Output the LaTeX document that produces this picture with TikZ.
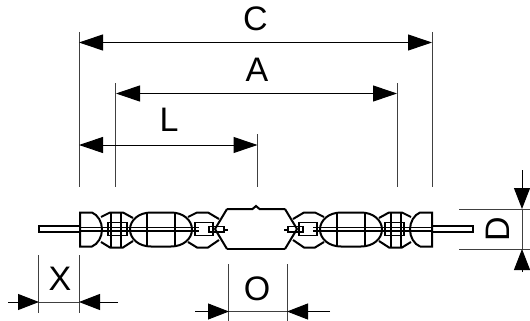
\documentclass[tikz,border=0pt]{standalone}
\usepackage{fontspec}
\setmainfont{Liberation Sans}
\usetikzlibrary{arrows.meta}
\tikzset{
  ext/.style={draw=black!75,line width=1pt},
  dim/.style={draw=black,line width=1pt,{Triangle[length=24pt,width=16pt]}-{Triangle[length=24pt,width=16pt]}},
  dimin/.style={draw=black,line width=1pt,-{Triangle[length=21pt,width=16pt]}},
  lbl/.style={font=\fontsize{34}{34}\selectfont,inner sep=0pt},
  lamp/.style={draw=black,line width=2pt,line join=miter},
  thin part/.style={draw=black,line width=1.1pt},
  halflamp/.pic={
    % lead
    \draw[lamp] (39,226) rectangle (80,232);
    % end cap
    \draw[lamp] (92,246.5) -- (80,246.5) -- (80,212.5) -- (92,212.5)
      .. controls (98,215) and (102,222) .. (102,229.5)
      .. controls (102,237) and (98,244) .. (92,246.5);
    % first pinch
    \draw[lamp] (101,217) -- (110,212.5) -- (123,212.5) -- (133,218);
    \draw[lamp] (101,242) -- (110,247.5) -- (123,247.5) -- (133,241);
    \draw[thin part] (108,222.5) rectangle (127,235.5);
    \draw[thin part] (111,212.5) -- (111,247.5);
    \draw[thin part] (121,212.5) -- (121,247.5);
    % oval
    \draw[lamp] (151,212.5) -- (171,212.5)
      .. controls (183,212.5) and (192,220) .. (192,229.5)
      .. controls (192,239) and (183,246.5) .. (171,246.5)
      -- (151,246.5)
      .. controls (139,246.5) and (130,239) .. (130,229.5)
      .. controls (130,220) and (139,212.5) .. (151,212.5) -- cycle;
    \draw[thin part] (147,212.5) -- (147,246.5);
    \draw[thin part] (175,212.5) -- (175,246.5);
    % second pinch
    \draw[lamp] (188,217) -- (197,212.5) -- (208,212.5) -- (219,219);
    \draw[lamp] (188,242) -- (197,247.5) -- (208,247.5) -- (219,240);
    \draw[thin part] (195,222.5) rectangle (213,235.5);
    % inner wire
    \draw[thin part] (80,227.5) -- (199,227.5);
    \draw[thin part] (80,231) -- (199,231);
    \draw[thin part] (209,226.5) rectangle (224,232);
    \draw[line width=2pt] (224,229.5) -- (228,229.5);
    % bulb flank
    \draw[lamp] (227,209) -- (215,229) -- (227,249);
  }
}
\begin{document}
\begin{tikzpicture}[x=1pt,y=-1pt]
  \useasboundingbox (0,0) rectangle (530,321);

  % lamp, one half and its mirror
  \pic at (0,0) {halflamp};
  \pic[xscale=-1] at (512,0) {halflamp};
  \draw[lamp] (227,209) -- (252.5,209) -- (256,206) -- (259.5,209) -- (285,209);
  \draw[lamp] (227,249) -- (285,249);

  % extension lines
  \coordinate (c1t) at (79,32);    \coordinate (c1b) at (79,187);
  \coordinate (a1t) at (115,83);   \coordinate (a1b) at (115,187);
  \coordinate (l2t) at (257.5,134);\coordinate (l2b) at (257.5,187);
  \coordinate (a2t) at (397,83);   \coordinate (a2b) at (397,187);
  \coordinate (c2t) at (432,32);   \coordinate (c2b) at (432,187);
  \path[ext] (c1t) edge (c1b) (a1t) edge (a1b) (l2t) edge (l2b)
             (a2t) edge (a2b) (c2t) edge (c2b);

  % dimensions on top
  \coordinate (c1) at (79,42.5);   \coordinate (c2) at (432,42.5);
  \coordinate (a1) at (116,93.5);  \coordinate (a2) at (397,93.5);
  \coordinate (l1) at (79,145);    \coordinate (l2) at (257.5,145);
  \draw[dim] (c1) -- (c2);
  \draw[dim] (a1) -- (a2);
  \draw[dim] (l1) -- (l2);
  \node[lbl] (lblC) at (255.5,19) {C};
  \node[lbl] (lblA) at (257,70) {A};
  \node[lbl] (lblL) at (169,120) {L};

  % X
  \coordinate (x1t) at (38.5,255); \coordinate (x1b) at (38.5,313);
  \coordinate (x2t) at (79.5,255); \coordinate (x2b) at (79.5,313);
  \path[ext] (x1t) edge (x1b) (x2t) edge (x2b);
  \coordinate (x0) at (8,302);     \coordinate (x1) at (39,302);
  \coordinate (x2) at (79,302);    \coordinate (x3) at (118,302);
  \draw[dimin] (x0) -- (x1);
  \draw[dimin] (x3) -- (x2);
  \draw[ext] (x1) -- (x2);
  \node[lbl] (lblX) at (60,279) {X};

  % O
  \coordinate (o1t) at (228.5,264);\coordinate (o1b) at (228.5,321);
  \coordinate (o2t) at (287.5,264);\coordinate (o2b) at (287.5,321);
  \path[ext] (o1t) edge (o1b) (o2t) edge (o2b);
  \coordinate (o0) at (195,311.5); \coordinate (o1) at (229,311.5);
  \coordinate (o2) at (287,311.5); \coordinate (o3) at (330,311.5);
  \draw[dimin] (o0) -- (o1);
  \draw[dimin] (o3) -- (o2);
  \draw[ext] (o1) -- (o2);
  \node[lbl] (lblO) at (257,289) {O};

  % D
  \coordinate (d1l) at (459,209);  \coordinate (d1r) at (530,209);
  \coordinate (d2l) at (459,249);  \coordinate (d2r) at (530,249);
  \path[ext] (d1l) edge (d1r) (d2l) edge (d2r);
  \coordinate (d0) at (522,170);   \coordinate (d1) at (522,209);
  \coordinate (d2) at (522,249);   \coordinate (d3) at (522,272);
  \draw[dimin] (d0) -- (d1);
  \draw[dimin] (d3) -- (d2);
  \draw[ext] (d1) -- (d2);
  \node[lbl,rotate=90] (lblD) at (498,229) {D};
\end{tikzpicture}
\end{document}
